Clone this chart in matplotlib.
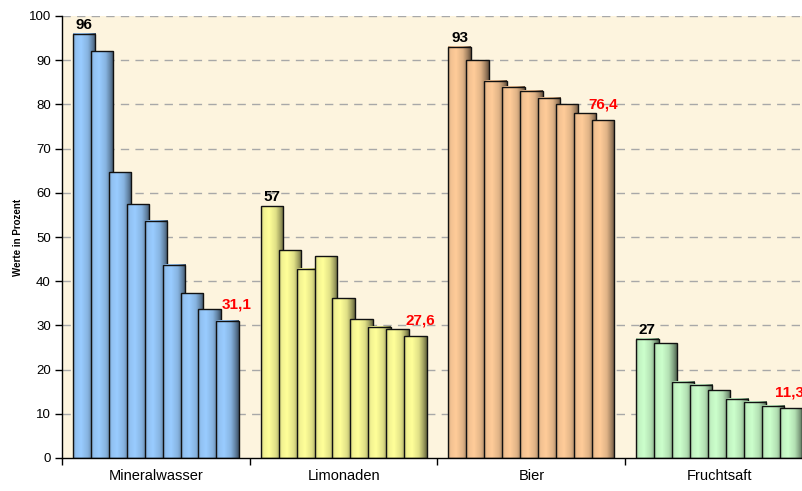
import numpy as np
import matplotlib
matplotlib.use("Agg")
import matplotlib.pyplot as plt
from matplotlib.patches import Rectangle
from matplotlib.colors import to_rgb

categories = ["Mineralwasser", "Limonaden", "Bier", "Fruchtsaft"]
mineralwasser = [96, 92, 64.6, 57.4, 53.7, 43.7, 37.3, 33.6, 31.1]
limonaden = [57, 47.0, 42.8, 45.7, 36.1, 31.4, 29.7, 29.1, 27.6]
bier = [93, 90.0, 85.3, 84.0, 83.1, 81.5, 80.0, 78.0, 76.4]
fruchtsaft = [27, 26.0, 17.2, 16.6, 15.3, 13.4, 12.7, 11.8, 11.3]
series = [mineralwasser, limonaden, bier, fruchtsaft]
first_labels = ["96", "57", "93", "27"]
last_labels = ["31,1", "27,6", "76,4", "11,3"]
colors = ["#99CCFF", "#FFFF99", "#FFCC99", "#CCFFCC"]
yticks = [0, 10, 20, 30, 40, 50, 60, 70, 80, 90, 100]

plt.rcParams['font.family'] = ['Liberation Sans', 'DejaVu Sans']

W, H, DPI = 803, 491, 100
fig = plt.figure(figsize=(W / DPI, H / DPI), dpi=DPI)
fig.patch.set_facecolor("white")
ax = fig.add_axes([62 / W, 33 / H, 751 / W, 442 / H])
ax.set_facecolor("#FDF4DE")

step = 0.0955
width = 0.119

# horizontal shading profile
tt = np.linspace(0, 1, 64)
prof = np.interp(tt, [0, 0.12, 0.35, 0.65, 0.85, 1.0], [0.78, 0.95, 1.0, 0.88, 0.64, 0.40])

z = 2
for gi, (vals, col) in enumerate(zip(series, colors)):
    base = np.array(to_rgb(col))
    img = (prof[:, None] * base[None, :])[None, :, :]
    center = gi + 0.5
    for j, v in enumerate(vals):
        xc = center + (j - (len(vals) - 1) / 2) * step
        x0, x1 = xc - width / 2, xc + width / 2
        ax.imshow(img, extent=[x0, x1, 0, v], aspect='auto', interpolation='bilinear',
                  zorder=z, origin='lower')
        ax.add_patch(Rectangle((x0, 0), width, v, fill=False, edgecolor="#111111",
                               linewidth=1.0, zorder=z + 0.5))
        z += 1
    # labels
    xf = center + (0 - (len(vals) - 1) / 2) * step
    ax.annotate(first_labels[gi], (xf, vals[0]), xytext=(0, 3.6), textcoords='offset points',
                ha='center', va='baseline', fontsize=11, fontweight='bold', color='black',
                zorder=100, annotation_clip=False)
    xl = center + ((len(vals) - 1) / 2) * step
    dx = [6.5, 3.5, 0, -0.7][gi]
    ax.annotate(last_labels[gi], (xl, vals[-1]), xytext=(dx, 8.5), textcoords='offset points',
                ha='center', va='baseline', fontsize=11, fontweight='bold', color='#FF0000',
                zorder=100, annotation_clip=False)

ax.set_xlim(0, 4)
ax.set_ylim(0, 100)
ax.set_yticks(yticks)
ax.set_yticklabels([str(t) for t in yticks], fontsize=9.5)
ax.set_xticks([0, 1, 2, 3, 4])
ax.set_xticklabels([])
ax.set_xticks([0.5, 1.5, 2.5, 3.5], minor=True)
ax.set_xticklabels(categories, minor=True, fontsize=10.5)
ax.tick_params(axis='x', which='minor', length=0, pad=8)
ax.tick_params(axis='x', which='major', length=5, width=1, direction='out')
ax.tick_params(axis='y', length=5, width=1, direction='out', pad=3)

for y in yticks[1:]:
    ax.axhline(y, color="#A8A8A8", linewidth=1.0, linestyle=(0, (6, 4.5)), zorder=1)

for s in ["top", "right"]:
    ax.spines[s].set_visible(False)
ax.spines["left"].set_linewidth(1.0)
ax.spines["bottom"].set_linewidth(1.0)
ax.spines["left"].set_zorder(200)
ax.spines["bottom"].set_zorder(200)

fig.text(18 / W, 1 - 237 / H, "Werte in Prozent", rotation=90, ha='center', va='center',
         fontsize=7, fontweight='bold')

fig.savefig("out.png", dpi=DPI)
